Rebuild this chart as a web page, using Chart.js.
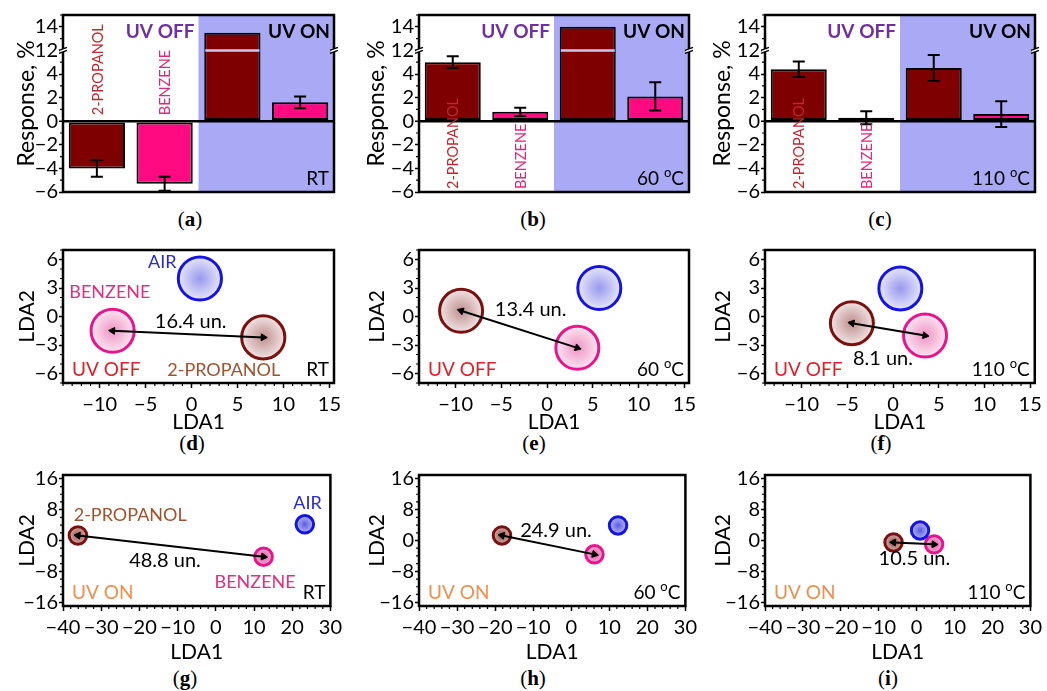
<!DOCTYPE html>
<html lang="en">
<head>
<meta charset="UTF-8">
<title>Response and LDA maps</title>
<script src="https://cdn.jsdelivr.net/npm/chart.js"></script>
<style>
  body { margin: 0; background: #fff; }
  #page { position: relative; width: 1047px; height: 691px; overflow: hidden; }
  .lbl { position: absolute; font-family: "Liberation Serif", "DejaVu Serif", serif; font-size: 21px; line-height: 24px; transform: translateX(-50%); color: #000; }
</style>
</head>
<body>
<div id="page">
  <div class="lbl" style="left:190px;top:207px">(<b>a</b>)</div>
  <div class="lbl" style="left:533px;top:207px">(<b>b</b>)</div>
  <div class="lbl" style="left:880px;top:207px">(<b>c</b>)</div>
  <div class="lbl" style="left:192px;top:431px">(<b>d</b>)</div>
  <div class="lbl" style="left:534px;top:431px">(<b>e</b>)</div>
  <div class="lbl" style="left:881px;top:431px">(<b>f</b>)</div>
  <div class="lbl" style="left:185px;top:666px">(<b>g</b>)</div>
  <div class="lbl" style="left:533px;top:666px">(<b>h</b>)</div>
  <div class="lbl" style="left:888px;top:666px">(<b>i</b>)</div>
</div>

<script>
// ---- data ----
const barCategories = ['2-PROPANOL UV OFF', 'BENZENE UV OFF', '2-PROPANOL UV ON', 'BENZENE UV ON'];
const responseRT  = [-4.0, -5.3, 13.5, 1.6];
const errorRT     = [0.7, 0.6, 0, 0.5];
const response60  = [5.0, 0.8, 14.0, 2.1];
const error60     = [0.5, 0.35, 0, 1.2];
const response110 = [4.4, 0.3, 4.5, 0.6];
const error110    = [0.65, 0.55, 1.1, 1.1];
const responseTicks = [-6, -4, -2, 0, 2, 4, 12, 14];
const breakFrom = 6, breakTo = 12;  // y axis is cut between these

const temperatures = ['RT', '60', '110'];

const clusterNames = ['AIR', 'BENZENE', '2-PROPANOL'];
const offRT_x  = [0.9, -8.6, 7.8];    const offRT_y  = [4.0, -1.5, -2.2];
const off60_x  = [5.7, 3.3, -9.4];    const off60_y  = [3.0, -3.3, 0.6];
const off110_x = [0.8, 3.5, -4.5];    const off110_y = [2.95, -2.0, -0.7];
const onRT_x   = [23.3, 12.5, -36.1]; const onRT_y   = [4.2, -4.2, 1.3];
const on60_x   = [12.3, 6.1, -18.2];  const on60_y   = [3.9, -3.6, 1.3];
const on110_x  = [0.9, 4.6, -6.1];    const on110_y  = [2.6, -1.0, -0.5];
const spreadOff = [2.35, 2.35, 2.35];
const spreadOn  = [2.3, 2.3, 2.3];
const distances = ['16.4 un.', '13.4 un.', '8.1 un.', '48.8 un.', '24.9 un.', '10.5 un.'];
const offXTicks = [-10, -5, 0, 5, 10, 15];
const offYTicks = [-6, -3, 0, 3, 6];
const onXTicks  = [-40, -30, -20, -10, 0, 10, 20, 30];
const onYTicks  = [-16, -8, 0, 8, 16];

// ---- layout / style ----
const FONT = 'Lato, "Open Sans", sans-serif';
Chart.defaults.font.family = FONT;
Chart.defaults.color = '#000';
const TICK = 20, TITLE_LDA = 21, TITLE_RESP = 23;
const NAME = 18, DIST = 20, CORNER = 19;

const cols = [
  {cx: 0,   cw: 347, L: 63,  R: 334,  titleX: 27},
  {cx: 350, cw: 352, L: 419, R: 689,  titleX: 27},
  {cx: 700, cw: 347, L: 765, R: 1035, titleX: 23}
];
const rows = [
  {cy: 0,   ch: 205, T: 15,  B: 195},
  {cy: 232, ch: 203, T: 250, B: 383},
  {cy: 458, ch: 207, T: 475, B: 606}
];
const barColors = ['#7f0000', '#ff0a80', '#7f0000', '#ff0a80'];
const ringColors = ['#1414e6', '#e8148c', '#7a1010'];
const cloudRGB = ['50,50,220', '225,40,140', '130,30,30'];
const cloudAlpha = {off: [0.5, 0.12], on: [0.8, 0.35]};
const noteColors = {AIR: '#2a2ad0', BENZENE: '#e0307f', '2-PROPANOL': '#a0522d'};

const fmt = v => String(v).replace('-', '\u2212');
const toAxis = v => v >= breakTo ? v - (breakTo - breakFrom) : v;
const fromAxis = v => v >= breakFrom ? v + (breakTo - breakFrom) : v;

function makeCanvas(id, col, row) {
  const c = document.createElement('canvas');
  c.id = id; c.width = col.cw; c.height = row.ch;
  c.style.cssText = `position:absolute;left:${col.cx}px;top:${row.cy}px;width:${col.cw}px;height:${row.ch}px`;
  document.getElementById('page').appendChild(c);
  return c;
}
function layoutFor(col, row) {
  return {padding: {left: 0, top: row.T - row.cy, right: col.cx + col.cw - col.R, bottom: 0}};
}

function drawTemp(ctx, t, xr, y) {
  ctx.fillStyle = '#000'; ctx.textBaseline = 'middle';
  if (t === 'RT') { ctx.font = `${CORNER}px ${FONT}`; ctx.textAlign = 'right'; ctx.fillText('RT', xr, y); return; }
  ctx.textAlign = 'left';
  ctx.font = `${CORNER}px ${FONT}`;
  const a = t + ' ', wa = ctx.measureText(a).width, wc = ctx.measureText('C').width;
  ctx.font = `13px ${FONT}`;
  const ws = ctx.measureText('o').width;
  let x = xr - wa - ws - wc;
  ctx.font = `${CORNER}px ${FONT}`; ctx.fillText(a, x, y); x += wa;
  ctx.font = `13px ${FONT}`; ctx.fillText('o', x, y - 6); x += ws;
  ctx.font = `${CORNER}px ${FONT}`; ctx.fillText('C', x, y);
}

function minorTicks(ctx, chart, stepX, stepY, skipX, skipY) {
  const a = chart.chartArea, sx = chart.scales.x, sy = chart.scales.y;
  ctx.strokeStyle = '#000'; ctx.lineWidth = 1.2;
  ctx.beginPath();
  if (stepX) {
    for (let v = Math.ceil(sx.min / stepX) * stepX; v <= sx.max; v += stepX) {
      if (skipX.includes(v)) continue;
      const p = sx.getPixelForValue(v);
      ctx.moveTo(p, a.bottom); ctx.lineTo(p, a.bottom + 3);
    }
  }
  for (let v = Math.ceil(sy.min / stepY) * stepY; v <= sy.max; v += stepY) {
    if (skipY.includes(v)) continue;
    const p = sy.getPixelForValue(v);
    ctx.moveTo(a.left, p); ctx.lineTo(a.left - 3, p);
  }
  ctx.stroke();
}

// ---- response bar charts ----
function responseChart(id, col, vals, errs, temp, labelsAtZero) {
  const row = rows[0];
  const cv = makeCanvas(id, col, row);
  new Chart(cv, {
    type: 'bar',
    data: {
      labels: barCategories,
      datasets: [{
        data: vals.map(toAxis),
        backgroundColor: barColors, borderColor: '#000', borderWidth: 2,
        borderSkipped: false, barPercentage: 0.83, categoryPercentage: 1
      }]
    },
    options: {
      responsive: false, animation: false, events: [],
      layout: layoutFor(col, row),
      plugins: {legend: {display: false}, tooltip: {enabled: false}},
      scales: {
        x: {
          ticks: {display: false}, grid: {display: false}, border: {display: false},
          afterFit: s => { s.height = row.cy + row.ch - row.B; }
        },
        y: {
          min: -6, max: 9,
          afterBuildTicks: s => { s.ticks = responseTicks.map(v => ({value: toAxis(v)})); },
          ticks: {callback: v => fmt(fromAxis(v)), font: {size: TICK}, color: '#000', padding: 1, autoSkip: false},
          grid: {
            color: c => (c.tick && c.tick.value === 0) ? '#000' : 'rgba(0,0,0,0)',
            lineWidth: c => (c.tick && c.tick.value === 0) ? 2.5 : 1,
            tickColor: '#000', tickWidth: 1.5, tickLength: 4
          },
          border: {display: false},
          title: {display: true, text: 'Response, %', font: {size: TITLE_RESP}, color: '#000',
                  padding: {top: col.titleX - TITLE_RESP * 0.6, bottom: 0}},
          afterFit: s => { s.width = col.L - col.cx; }
        }
      }
    },
    plugins: [{
      id: 'resp',
      beforeDraw(chart) {
        const {ctx, chartArea: a} = chart, sx = chart.scales.x;
        const mid = (sx.getPixelForTick(1) + sx.getPixelForTick(2)) / 2;
        ctx.save();
        ctx.fillStyle = '#a9a9f6';
        ctx.fillRect(mid, a.top, a.right - mid, a.bottom - a.top);
        ctx.restore();
      },
      afterDatasetsDraw(chart) {
        const {ctx, chartArea: a} = chart, sy = chart.scales.y, sx = chart.scales.x;
        const bars = chart.getDatasetMeta(0).data;
        ctx.save();
        // cut line across bars that pass the break
        bars.forEach((b, i) => {
          if (vals[i] < breakTo) return;
          const y = sy.getPixelForValue(breakFrom);
          ctx.strokeStyle = '#c9c9f2'; ctx.lineWidth = 2.5;
          ctx.beginPath(); ctx.moveTo(b.x - b.width / 2 + 1, y); ctx.lineTo(b.x + b.width / 2 - 1, y); ctx.stroke();
        });
        // error bars
        ctx.strokeStyle = '#000'; ctx.lineWidth = 2;
        bars.forEach((b, i) => {
          if (!errs[i]) return;
          const y1 = sy.getPixelForValue(toAxis(vals[i] + errs[i]));
          const y2 = sy.getPixelForValue(toAxis(vals[i] - errs[i]));
          ctx.beginPath();
          ctx.moveTo(b.x, y1); ctx.lineTo(b.x, y2);
          ctx.moveTo(b.x - 6, y1); ctx.lineTo(b.x + 6, y1);
          ctx.moveTo(b.x - 6, y2); ctx.lineTo(b.x + 6, y2);
          ctx.stroke();
        });
        // vertical compound labels
        const base = labelsAtZero ? sy.getPixelForValue(0) - 6 : a.bottom - 3;
        [['2-PROPANOL', '#c0282d'], ['BENZENE', '#e0287a']].forEach(([t, c], i) => {
          ctx.save();
          ctx.translate(bars[i].x, base); ctx.rotate(-Math.PI / 2);
          ctx.font = `14.5px ${FONT}`; ctx.fillStyle = c; ctx.textAlign = 'left'; ctx.textBaseline = 'middle';
          ctx.fillText(t, 0, 1);
          ctx.restore();
        });
        const mid = (sx.getPixelForTick(1) + sx.getPixelForTick(2)) / 2;
        ctx.font = `bold 19px ${FONT}`; ctx.textBaseline = 'middle'; ctx.textAlign = 'right';
        ctx.fillStyle = '#7030a0'; ctx.fillText('UV OFF', mid - 4, a.top + 17);
        ctx.fillStyle = '#000'; ctx.fillText('UV ON', a.right - 4, a.top + 17);
        drawTemp(ctx, temp, a.right - 5, a.bottom - 13);
        ctx.restore();
      },
      afterDraw(chart) {
        const {ctx, chartArea: a} = chart, sy = chart.scales.y;
        ctx.save();
        minorTicks(ctx, chart, 0, 1, [], responseTicks.map(toAxis));
        ctx.strokeStyle = '#000'; ctx.lineWidth = 2.5;
        ctx.strokeRect(a.left, a.top, a.right - a.left, a.bottom - a.top);
        // break marks on both sides
        const yb = sy.getPixelForValue(breakFrom);
        [a.left, a.right].forEach(x => {
          ctx.fillStyle = '#fff'; ctx.fillRect(x - 3, yb - 1.5, 6, 3);
          ctx.strokeStyle = '#000'; ctx.lineWidth = 1.5;
          ctx.beginPath();
          ctx.moveTo(x - 4, yb); ctx.lineTo(x + 4, yb - 3);
          ctx.moveTo(x - 4, yb + 3); ctx.lineTo(x + 4, yb);
          ctx.stroke();
        });
        ctx.restore();
      }
    }]
  });
}

// ---- LDA scatter charts ----
function arrowAngle(c) {
  const ch = c.chart, sx = ch.scales.x, sy = ch.scales.y;
  if (!sx || !sy) return 0;
  const d = c.dataset.data, me = d[c.dataIndex], other = d[1 - c.dataIndex];
  const dx = sx.getPixelForValue(me.x) - sx.getPixelForValue(other.x);
  const dy = sy.getPixelForValue(me.y) - sy.getPixelForValue(other.y);
  const ang = Math.atan2(dx, -dy) * 180 / Math.PI;
  return isFinite(ang) ? ang : 0;
}
function spreadPx(chart, r) {
  const s = chart.scales.x;
  if (!s) return 0;
  const p = Math.abs(s.getPixelForValue(r) - s.getPixelForValue(0));
  return isFinite(p) ? p : 0;
}

function ldaChart(id, col, row, xs, ys, spread, ax, dist, notes, mode, temp) {
  const cv = makeCanvas(id, col, row);
  const sets = [{
    type: 'line',
    data: [{x: xs[1], y: ys[1]}, {x: xs[2], y: ys[2]}],
    borderColor: '#000', borderWidth: 2,
    pointStyle: 'triangle', pointRadius: 4, pointBackgroundColor: '#000',
    pointBorderColor: '#000', pointBorderWidth: 1, pointRotation: arrowAngle
  }];
  clusterNames.forEach((n, k) => sets.push({
    type: 'scatter', label: n,
    data: [{x: xs[k], y: ys[k]}],
    pointRadius: c => spreadPx(c.chart, spread[k]),
    pointBackgroundColor: c => {
      const ch = c.chart, flat = `rgba(${cloudRGB[k]},${cloudAlpha[mode][1]})`;
      if (!ch.scales.x || !c.raw) return flat;
      const px = ch.scales.x.getPixelForValue(c.raw.x), py = ch.scales.y.getPixelForValue(c.raw.y);
      const r = spreadPx(ch, spread[k]);
      if (!isFinite(px) || !isFinite(py) || !(r > 0)) return flat;
      const g = ch.ctx.createRadialGradient(px, py, 0, px, py, r);
      g.addColorStop(0, `rgba(${cloudRGB[k]},${cloudAlpha[mode][0]})`);
      g.addColorStop(1, flat);
      return g;
    },
    pointBorderColor: ringColors[k], pointBorderWidth: 3
  }));
  new Chart(cv, {
    type: 'scatter',
    data: {datasets: sets},
    options: {
      responsive: false, animation: false, events: [],
      layout: layoutFor(col, row),
      plugins: {legend: {display: false}, tooltip: {enabled: false}},
      scales: {
        x: {
          type: 'linear', min: ax.xMin, max: ax.xMax,
          afterBuildTicks: s => { s.ticks = ax.xTicks.map(v => ({value: v})); },
          ticks: {callback: fmt, font: {size: TICK}, color: '#000', padding: 5, maxRotation: 0, autoSkip: false},
          grid: {drawOnChartArea: false, tickColor: '#000', tickWidth: 1.5, tickLength: 5},
          border: {display: false},
          title: {display: true, text: 'LDA1', font: {size: TITLE_LDA}, color: '#000', padding: {top: 0, bottom: 0}},
          afterFit: s => { s.height = row.cy + row.ch - row.B; }
        },
        y: {
          type: 'linear', min: ax.yMin, max: ax.yMax,
          afterBuildTicks: s => { s.ticks = ax.yTicks.map(v => ({value: v})); },
          ticks: {callback: fmt, font: {size: TICK}, color: '#000', padding: 1, autoSkip: false},
          grid: {drawOnChartArea: false, tickColor: '#000', tickWidth: 1.5, tickLength: 4},
          border: {display: false},
          title: {display: true, text: 'LDA2', font: {size: TITLE_LDA}, color: '#000',
                  padding: {top: col.titleX - TITLE_LDA * 0.6, bottom: 0}},
          afterFit: s => { s.width = col.L - col.cx; }
        }
      }
    },
    plugins: [{
      id: 'lda',
      afterDatasetsDraw(chart) {
        const {ctx, chartArea: a} = chart, sx = chart.scales.x, sy = chart.scales.y;
        ctx.save();
        ctx.textAlign = 'center'; ctx.textBaseline = 'middle';
        ctx.font = `${DIST}px ${FONT}`;
        ctx.fillStyle = '#000';
        ctx.fillText(dist.t, sx.getPixelForValue(dist.x), sy.getPixelForValue(dist.y));
        ctx.font = `${NAME}px ${FONT}`;
        notes.forEach(n => {
          ctx.fillStyle = noteColors[n.t];
          ctx.fillText(n.t, sx.getPixelForValue(n.x), sy.getPixelForValue(n.y));
        });
        ctx.textAlign = 'left';
        ctx.font = `${CORNER}px ${FONT}`;
        ctx.fillStyle = mode === 'off' ? '#e0202a' : '#ee8f4e';
        ctx.fillText(mode === 'off' ? 'UV OFF' : 'UV ON', a.left + 9, a.bottom - 13);
        drawTemp(ctx, temp, a.right - 5, a.bottom - 13);
        ctx.restore();
      },
      afterDraw(chart) {
        const {ctx, chartArea: a} = chart;
        ctx.save();
        minorTicks(ctx, chart, ax.minor, ax.minor, ax.xTicks, ax.yTicks);
        ctx.strokeStyle = '#000'; ctx.lineWidth = 2.5;
        ctx.strokeRect(a.left, a.top, a.right - a.left, a.bottom - a.top);
        ctx.restore();
      }
    }]
  });
}

const axesOff = {xMin: -14, xMax: 15.5, yMin: -7, yMax: 7, xTicks: offXTicks, yTicks: offYTicks, minor: 1};
const axesOn  = {xMin: -40, xMax: 30, yMin: -17, yMax: 17, xTicks: onXTicks, yTicks: onYTicks, minor: 2};

responseChart('ca', cols[0], responseRT, errorRT, temperatures[0], true);
responseChart('cb', cols[1], response60, error60, temperatures[1], false);
responseChart('cc', cols[2], response110, error110, temperatures[2], false);

ldaChart('cd', cols[0], rows[1], offRT_x, offRT_y, spreadOff, axesOff, {t: distances[0], x: -0.1, y: -0.5},
  [{t: 'AIR', x: -3.2, y: 5.7}, {t: 'BENZENE', x: -8.9, y: 2.6}, {t: '2-PROPANOL', x: 3.5, y: -5.6}], 'off', temperatures[0]);
ldaChart('ce', cols[1], rows[1], off60_x, off60_y, spreadOff, axesOff, {t: distances[1], x: -1.8, y: 0.7}, [], 'off', temperatures[1]);
ldaChart('cf', cols[2], rows[1], off110_x, off110_y, spreadOff, axesOff, {t: distances[2], x: -1.1, y: -4.4}, [], 'off', temperatures[2]);

ldaChart('cg', cols[0], rows[2], onRT_x, onRT_y, spreadOn, axesOn, {t: distances[3], x: -13.3, y: -5.1},
  [{t: '2-PROPANOL', x: -22.4, y: 6.6}, {t: 'AIR', x: 24.0, y: 9.7}, {t: 'BENZENE', x: 10.3, y: -10.8}], 'on', temperatures[0]);
ldaChart('ch', cols[1], rows[2], on60_x, on60_y, spreadOn, axesOn, {t: distances[4], x: -4.0, y: 2.5}, [], 'on', temperatures[1]);
ldaChart('ci', cols[2], rows[2], on110_x, on110_y, spreadOn, axesOn, {t: distances[5], x: -0.6, y: -4.8}, [], 'on', temperatures[2]);
</script>
</body>
</html>
